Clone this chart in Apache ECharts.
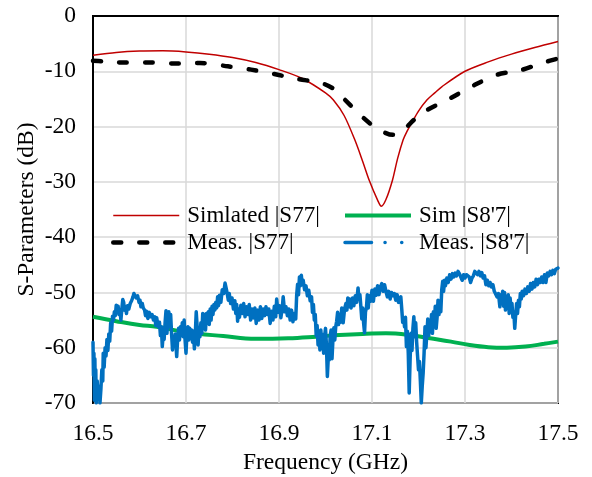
<!DOCTYPE html>
<html>
<head>
<meta charset="utf-8">
<script src="https://cdn.jsdelivr.net/npm/echarts@6/dist/echarts.min.js"></script>
<style>
html,body{margin:0;padding:0;background:#fff;}
#chart{width:592px;height:477px;}
</style>
</head>
<body>
<div id="chart"></div>
<script>
// ---- data ----
const xTicks = [16.5, 16.7, 16.9, 17.1, 17.3, 17.5];
const yTicks = [0, -10, -20, -30, -40, -50, -60, -70];

const simS77Freq = [16.50,16.55,16.60,16.65,16.70,16.75,16.80,16.85,16.90,16.95,17.00,17.017,17.04,17.063,17.08,17.094,17.112,17.12,17.13,17.144,17.155,17.167,17.175,17.185,17.20,17.218,17.235,17.25,17.30,17.35,17.40,17.45,17.50];
const simS77Val  = [-7.1,-6.6,-6.35,-6.3,-6.5,-6.9,-7.5,-8.4,-9.7,-11.3,-13.9,-15.2,-18.0,-22.4,-26.3,-29.7,-33.3,-34.4,-33.2,-29.7,-25.8,-22.4,-20.9,-19.4,-17.2,-15.2,-13.9,-12.8,-10.0,-8.3,-6.9,-5.7,-4.6];

const simS87Freq = [16.50,16.55,16.60,16.637,16.70,16.78,16.85,16.92,16.98,17.03,17.08,17.13,17.18,17.225,17.27,17.31,17.35,17.39,17.43,17.47,17.50];
const simS87Val  = [-54.4,-55.2,-55.9,-56.2,-57.2,-57.9,-58.4,-58.3,-58.0,-57.7,-57.5,-57.4,-57.7,-58.3,-58.9,-59.5,-59.9,-60.0,-59.8,-59.3,-58.9];

const measS77Freq = [16.50,16.52,16.56,16.62,16.68,16.73,16.79,16.84,16.89,16.94,16.99,17.02,17.04,17.08,17.11,17.145,17.165,17.19,17.21,17.27,17.32,17.37,17.42,17.47,17.50];
const measS77Val  = [-8.1,-8.2,-8.4,-8.4,-8.6,-8.5,-9.1,-9.7,-10.5,-11.4,-12.1,-13.3,-15,-18.3,-20.3,-21.5,-20.8,-18.8,-17.4,-14.8,-12.5,-10.6,-9.8,-8.4,-7.7];

const measS87Freq = [
16.500,16.501,16.502,16.503,16.504,16.505,16.506,16.507,16.509,16.511,16.513,16.515,16.517,16.519,16.521,16.522,16.524,16.526,16.528,16.530,
16.532,16.534,16.536,16.538,16.540,16.542,16.544,16.546,16.548,16.550,16.552,16.554,16.556,16.558,16.560,16.562,16.564,16.566,16.568,16.570,
16.572,16.574,16.577,16.580,16.583,16.586,16.588,16.590,16.593,16.596,16.599,16.601,16.603,16.606,16.608,16.611,16.613,16.615,16.618,16.621,
16.624,16.627,16.630,16.633,16.635,16.637,16.640,16.643,16.645,16.647,16.649,16.651,16.653,16.655,16.657,16.659,16.661,16.663,16.665,16.667,
16.669,16.671,16.673,16.675,16.677,16.680,16.682,16.684,16.686,16.688,16.690,16.692,16.694,16.696,16.698,16.700,16.702,16.704,16.706,16.708,
16.710,16.712,16.714,16.716,16.718,16.720,16.722,16.724,16.726,16.728,16.730,16.732,16.734,16.736,16.738,16.740,16.742,16.744,16.746,16.748,
16.750,16.752,16.754,16.756,16.758,16.760,16.762,16.764,16.766,16.768,16.770,16.772,16.775,16.778,16.781,16.784,16.787,16.789,16.791,16.793,
16.796,16.799,16.802,16.805,16.807,16.809,16.811,16.813,16.815,16.818,16.821,16.824,16.827,16.830,16.833,16.836,16.839,16.842,16.845,16.848,
16.851,16.854,16.857,16.860,16.863,16.866,16.869,16.872,16.875,16.878,16.881,16.884,16.887,16.890,16.893,16.895,16.898,16.901,16.904,16.907,
16.909,16.912,16.915,16.918,16.921,16.924,16.927,16.930,16.933,16.936,16.938,16.940,16.942,16.944,16.946,16.948,16.950,16.952,16.955,16.958,
16.961,16.964,16.967,16.970,16.972,16.974,16.976,16.978,16.980,16.982,16.984,16.986,16.988,16.990,16.992,16.994,16.996,16.998,17.000,17.002,
17.004,17.006,17.008,17.010,17.012,17.014,17.016,17.018,17.020,17.022,17.024,17.026,17.028,17.030,17.032,17.035,17.038,17.041,17.044,17.046,
17.048,17.050,17.052,17.055,17.058,17.061,17.064,17.067,17.070,17.072,17.074,17.076,17.078,17.080,17.082,17.084,17.086,17.088,17.090,17.092,
17.094,17.097,17.100,17.103,17.106,17.109,17.112,17.115,17.118,17.121,17.124,17.127,17.130,17.133,17.136,17.139,17.142,17.145,17.148,17.151,
17.154,17.157,17.160,17.162,17.164,17.166,17.168,17.170,17.172,17.174,17.176,17.178,17.180,17.182,17.184,17.186,17.188,17.190,17.192,17.194,
17.196,17.198,17.200,17.202,17.204,17.206,17.208,17.210,17.212,17.214,17.216,17.218,17.220,17.222,17.224,17.226,17.228,17.230,17.232,17.234,
17.236,17.238,17.240,17.242,17.244,17.246,17.248,17.250,17.252,17.254,17.256,17.258,17.261,17.264,17.267,17.270,17.273,17.276,17.279,17.282,
17.285,17.288,17.291,17.294,17.297,17.300,17.303,17.306,17.309,17.312,17.315,17.318,17.321,17.324,17.327,17.330,17.333,17.336,17.339,17.342,
17.345,17.348,17.351,17.354,17.357,17.360,17.363,17.366,17.369,17.372,17.375,17.377,17.379,17.381,17.383,17.385,17.387,17.389,17.391,17.393,
17.395,17.397,17.399,17.401,17.403,17.405,17.407,17.409,17.411,17.413,17.415,17.417,17.419,17.421,17.423,17.426,17.429,17.432,17.435,17.438,
17.441,17.444,17.447,17.450,17.453,17.456,17.459,17.462,17.465,17.468,17.471,17.474,17.477,17.480,17.483,17.486,17.489,17.492,17.495,17.498,
17.500];
const measS87Val = [
-59,-65,-61,-69.5,-62,-68,-64,-70,-66,-69,-67,-70,-67.5,-64,-66,-61,-63.5,-60,-61.5,-58.5,
-60.5,-57.5,-58.8,-55.5,-57,-54.3,-55,-53.5,-54.2,-52.3,-53.2,-52.5,-54,-53.2,-55,-53,-51.3,-51.8,-53.2,-52.6,
-53.8,-52.4,-53,-52,-51.5,-50.8,-50.2,-50.4,-51,-50.6,-51.8,-51.4,-52.6,-52,-52.8,-53.2,-54.2,-53.4,-54.7,-53.6,
-54.4,-54,-55,-54.4,-56,-54.6,-56.2,-55.4,-57.8,-56.2,-59.8,-57.5,-58.5,-55.5,-53.3,-57.4,-55,-53.5,-56.2,-54,
-57.5,-60.4,-58,-59.5,-57.5,-61.6,-58.5,-56.5,-58.6,-56.2,-57.8,-55.5,-58,-55,-58.6,-61,-57.5,-56.2,-58.6,-56.5,
-58.2,-56.8,-59,-57,-60.2,-57.5,-53.5,-56.2,-59.5,-56.5,-58,-55.5,-57.4,-53.8,-56,-54,-56.8,-53.8,-55.5,-53.5,
-55.8,-53,-55,-52.5,-54,-52.2,-53.2,-51.8,-52.8,-50.8,-52.4,-50.5,-51.8,-49.5,-50.2,-48.3,-49.5,-50.4,-51.4,-50.2,
-52,-51,-53,-51.5,-53.8,-52.2,-55.2,-53,-54.5,-52.3,-53.8,-52,-54.4,-52.6,-54,-52.2,-55,-53,-54.6,-52.8,
-55.6,-53.2,-55,-52.6,-54.7,-53,-54.2,-52.6,-54,-53,-55.6,-53.4,-55,-52.5,-54.4,-51.2,-53.6,-52.4,-54.6,-52.8,
-50.8,-53.5,-52.6,-54.2,-53,-55,-53.2,-55.3,-53.8,-54.8,-50.5,-48.5,-50.4,-47.2,-48.8,-46.9,-48.6,-47.8,-49.5,-48.8,
-50.6,-49.6,-51.5,-50.8,-53.6,-52.2,-55,-54,-57.8,-56,-59.5,-57,-60.4,-56.8,-59.8,-57.6,-61,-58,-56.5,-59.5,
-65.2,-61.8,-62.2,-58,-56.8,-62,-58.5,-56.4,-58.6,-56.2,-55.2,-53.6,-55.8,-54,-55.4,-52.8,-55.5,-53,-52,-53.2,
-51,-52.6,-51.2,-52.8,-51,-52.4,-50.6,-51.8,-49.2,-51.2,-50.4,-52.5,-54.8,-52.8,-55.6,-57.3,-53.5,-52.8,-50.4,-52.8,
-50.6,-51.6,-49.6,-51.6,-49.4,-50.5,-48.8,-50.4,-49,-48.4,-49.8,-48.6,-49.8,-50.8,-49.8,-51.2,-50,-50.6,-50.2,-51.4,
-50.4,-51.8,-52,-50.8,-53,-55.4,-54.6,-56.2,-54.5,-59.8,-57,-61,-68.2,-62,-57.4,-60.5,-56.5,-54.4,-58,-55.5,
-59,-61.5,-64,-62.5,-66,-70,-67,-64.6,-61,-56.2,-60,-57.5,-54.8,-57.8,-55.5,-57,-54,-57.4,-53.5,-56,
-52.5,-56.5,-54.5,-51.4,-54,-51.6,-53.5,-49.5,-48,-49.8,-47.8,-48.8,-47.4,-48.2,-46.8,-47.6,-46.6,-47.2,-46.5,-47,
-46.2,-46.6,-47.2,-47.8,-46.8,-47.4,-46.8,-46.5,-47.2,-48.2,-47.4,-47,-46.2,-45.9,-46.8,-46.2,-47,-46.4,-47.4,-47,
-48.6,-47.8,-48.8,-48.2,-49,-48.6,-49.8,-49.6,-50.8,-50.2,-52.6,-50.4,-51.8,-49.8,-52.5,-50,-53.2,-51,-52.8,-50.4,
-53.8,-51,-53,-52,-54.5,-53.5,-56.5,-54,-52,-53.8,-51.4,-52.6,-50.2,-51.2,-49.8,-50.6,-49.4,-50.2,-49,-49.8,
-48.4,-49.4,-48.2,-49,-47.6,-48.6,-47.6,-48.2,-47.2,-48.2,-46.8,-48.2,-46.5,-47,-46.2,-46.8,-46,-46.6,-45.8,-46,
-45.6];

const seriesNames = ['Simlated |S77|', "Sim |S8'7|", 'Meas. |S77|', "Meas. |S8'7|"];

function pairs(xs, ys) { return xs.map((x, i) => [x, ys[i]]); }

const FONT = "'Liberation Serif', 'Times New Roman', serif";
const AX_FS = 23.5;
const LG_FS = 23;
const chart = echarts.init(document.getElementById('chart'), null, {renderer: 'canvas'});
const legendCommon = {
  orient: 'vertical', top: 204, itemWidth: 66, itemHeight: 14, itemGap: 4, padding: 0,
  selectedMode: false,
  itemStyle: {opacity: 0},
  textStyle: {fontFamily: FONT, fontSize: LG_FS, color: '#000', padding: [0, 0, 0, 3]}
};
chart.setOption({
  backgroundColor: '#fff',
  animation: false,
  grid: {left: 93, right: 34, top: 16, bottom: 74, show: true, borderColor: '#000', borderWidth: 2,
         backgroundColor: 'transparent', outerBoundsMode: 'none', containLabel: false},
  legend: [
    Object.assign({}, legendCommon, {left: 111, data: [
      {name: seriesNames[0], lineStyle: {width: 1.5}},
      {name: seriesNames[2], lineStyle: {width: 4.5, type: [8, 18], cap: 'round'}}
    ]}),
    Object.assign({}, legendCommon, {left: 343, data: [
      {name: seriesNames[1], lineStyle: {width: 4}},
      {name: seriesNames[3], lineStyle: {width: 3.5, type: [26.5, 13.5, 0.1, 16.6, 0.1, 13.5], cap: 'round'}}
    ]})
  ],
  xAxis: {
    type: 'value', min: xTicks[0], max: xTicks[xTicks.length - 1], interval: 0.2,
    name: 'Frequency (GHz)', nameLocation: 'middle', nameGap: 48, nameMoveOverlap: false,
    nameTextStyle: {fontFamily: FONT, fontSize: AX_FS, color: '#000'},
    axisLine: {show: true, lineStyle: {color: '#000', width: 2}},
    axisTick: {show: false},
    axisLabel: {fontFamily: FONT, fontSize: AX_FS, color: '#000', margin: 19,
      formatter: v => v.toFixed(1)},
    splitLine: {show: true, lineStyle: {color: '#d9d9d9', width: 1.5}}
  },
  yAxis: {
    type: 'value', min: yTicks[yTicks.length - 1], max: yTicks[0], interval: 10,
    name: 'S-Parameters (dB)', nameLocation: 'middle', nameGap: 54, nameMoveOverlap: false,
    nameTextStyle: {fontFamily: FONT, fontSize: AX_FS, color: '#000'},
    axisLine: {show: true, lineStyle: {color: '#000', width: 2}},
    axisTick: {show: false},
    axisLabel: {fontFamily: FONT, fontSize: AX_FS, color: '#000', margin: 17},
    splitLine: {show: true, lineStyle: {color: '#d9d9d9', width: 1.5}}
  },
  series: [
    {name: seriesNames[0], type: 'line', symbol: 'none', smooth: 0.3,
     data: pairs(simS77Freq, simS77Val), lineStyle: {color: '#C00000', width: 1.5}, itemStyle: {color: '#C00000'}},
    {name: seriesNames[1], type: 'line', symbol: 'none', smooth: 0.4,
     data: pairs(simS87Freq, simS87Val), lineStyle: {color: '#00B050', width: 4}, itemStyle: {color: '#00B050'}},
    {name: seriesNames[2], type: 'line', symbol: 'none', smooth: 0.3,
     data: pairs(measS77Freq, measS77Val), lineStyle: {color: '#000', width: 4.5, type: [8, 18], cap: 'round'}, itemStyle: {color: '#000'}},
    {name: seriesNames[3], type: 'line', symbol: 'none',
     data: pairs(measS87Freq, measS87Val), lineStyle: {color: '#0070C0', width: 3.5, cap: 'round', join: 'round'}, itemStyle: {color: '#0070C0'}}
  ]
});
</script>
</body>
</html>
